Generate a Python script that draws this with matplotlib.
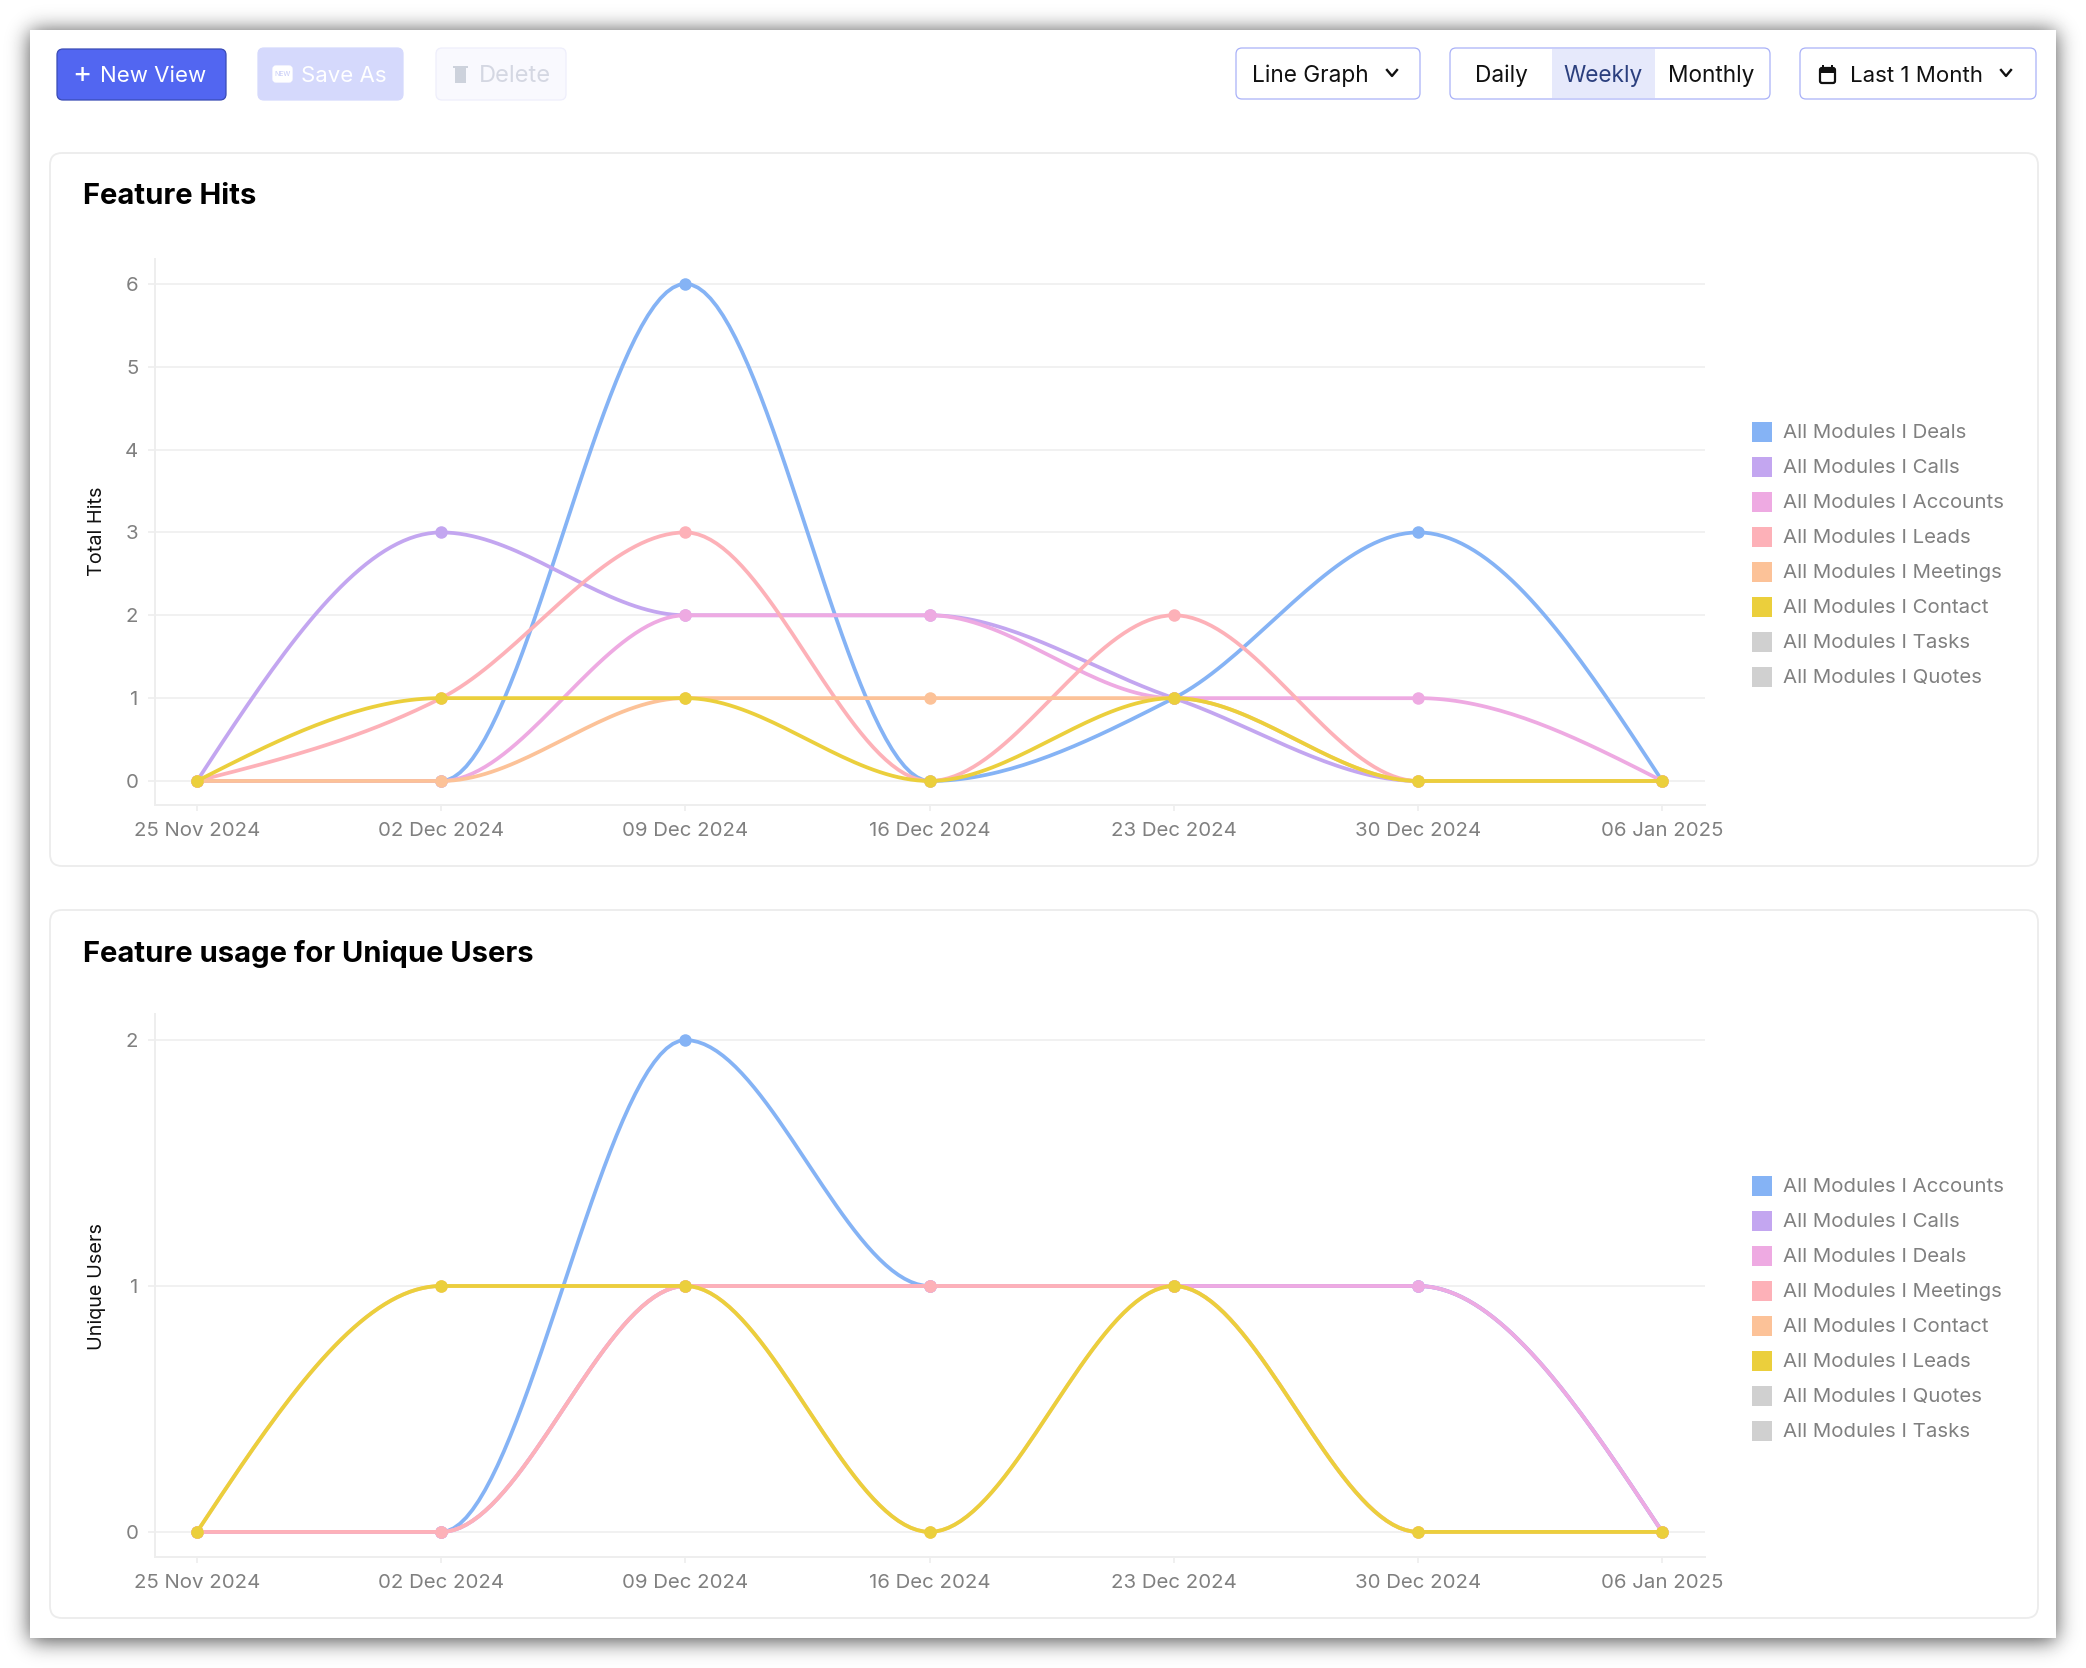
import math
import numpy as np
import matplotlib
matplotlib.use('Agg')
import matplotlib.pyplot as plt
from matplotlib.patches import FancyBboxPatch, Rectangle

W, H = 2086, 1668

weeks = ['25 Nov 2024', '02 Dec 2024', '09 Dec 2024', '16 Dec 2024', '23 Dec 2024', '30 Dec 2024', '06 Jan 2025']

# first chart
hits_deals = [0, 0, 6, 0, 1, 3, 0]
hits_calls = [0, 3, 2, 2, 1, 0, 0]
hits_accounts = [0, 0, 2, 2, 1, 1, 0]
hits_leads = [0, 1, 3, 0, 2, 0, 0]
hits_meetings = [0, 0, 1, 1, 1, 0, 0]
hits_contact = [0, 1, 1, 0, 1, 0, 0]
hits_names = ['Deals', 'Calls', 'Accounts', 'Leads', 'Meetings', 'Contact', 'Tasks', 'Quotes']

# second chart
users_accounts = [0, 0, 2, 1, 1, 1, 0]
users_calls = [0, 0, 1, 1, 1, 1, 0]
users_deals = [0, 0, 1, 1, 1, 1, 0]
users_meetings = [0, 0, 1, 1, 1, 0, 0]
users_contact = [0, 1, 1, 0, 1, 0, 0]
users_leads = [0, 1, 1, 0, 1, 0, 0]
users_names = ['Accounts', 'Calls', 'Deals', 'Meetings', 'Contact', 'Leads', 'Quotes', 'Tasks']

colors = ['#85b3f5', '#c3a6f0', '#eeaae2', '#fdb1b8', '#fcc298', '#ebcf3c', '#d0d0d0', '#d0d0d0']

UI = 'Inter'
CHART = 'Inter'


def monotone(y, n=40):
    # same curve as d3 monotoneX, points are one week apart
    y = np.array(y, dtype=float)
    s = np.diff(y)
    t = np.zeros(len(y))
    for i in range(1, len(y) - 1):
        p = (s[i - 1] + s[i]) / 2
        t[i] = (np.sign(s[i - 1]) + np.sign(s[i])) * min(abs(s[i - 1]), abs(s[i]), 0.5 * abs(p))
    t[0] = (3 * s[0] - t[1]) / 2
    t[-1] = (3 * s[-1] - t[-2]) / 2
    xs, ys = [], []
    for i in range(len(y) - 1):
        u = np.linspace(0, 1, n)
        ys.append((2 * u**3 - 3 * u**2 + 1) * y[i] + (u**3 - 2 * u**2 + u) * t[i] + (-2 * u**3 + 3 * u**2) * y[i + 1] + (u**3 - u**2) * t[i + 1])
        xs.append(i + u)
    return np.concatenate(xs), np.concatenate(ys)


def box(ax, x0, y0, x1, y1, fc, ec, lw=0.9, r=6, z=2):
    ax.add_patch(FancyBboxPatch((x0, y0), x1 - x0, y1 - y0, boxstyle='round,pad=0,rounding_size=%d' % r, fc=fc, ec=ec, lw=lw, zorder=z))


def chevron(ax, x, y, c='#111111'):
    ax.plot([x - 5, x, x + 5], [y - 3, y + 3, y - 3], color=c, lw=1.7, zorder=4)


fig = plt.figure(figsize=(W / 100, H / 100), dpi=100, facecolor='white')
bg = fig.add_axes([0, 0, 1, 1])
bg.set_xlim(0, W)
bg.set_ylim(H, 0)
bg.axis('off')

# window shadow
erf = np.vectorize(math.erf)
xx = np.arange(W) + 0.5
yy = np.arange(H) + 0.5
sig = 15
ax_ = 0.5 * (erf((xx - 30) / sig) - erf((xx - 2056) / sig))
ay_ = 0.5 * (erf((yy - 31) / sig) - erf((yy - 1641) / sig))
shadow = 1 - 0.7 * np.outer(ay_, ax_)
bg.imshow(shadow, cmap='gray', vmin=0, vmax=1, extent=[0, W, H, 0], aspect='auto', zorder=0)
bg.set_xlim(0, W)
bg.set_ylim(H, 0)
bg.add_patch(Rectangle((30, 30), 2026, 1608, fc='white', ec='none', zorder=1))

# toolbar
TY = 76
box(bg, 57, 49, 226, 100, '#5266f1', '#3a4bb5')
bg.text(82, TY - 2, '+', color='white', fontsize=21, family=UI, ha='center', va='center', zorder=4)
bg.text(100, TY, 'New View', color='white', fontsize=16, family=UI, va='center', zorder=4)
box(bg, 258, 48, 403, 100, '#d5d9fc', '#d5d9fc')
box(bg, 273, 66, 292, 82, 'white', 'white', r=3, z=3)
bg.text(282.5, 74, 'NEW', color='#c6cbf7', fontsize=5, family=UI, ha='center', va='center', zorder=4)
bg.text(301, TY, 'Save As', color='white', fontsize=16, family=UI, va='center', zorder=4)
box(bg, 436, 48, 566, 100, '#f9f9fe', '#eeeefb')
bg.add_patch(Rectangle((455, 68), 11, 15, fc='#cdd2dc', ec='none', zorder=3))
bg.add_patch(Rectangle((453, 66), 15, 2, fc='#cdd2dc', ec='none', zorder=3))
bg.text(479, TY, 'Delete', color='#d4d7e2', fontsize=17, family=UI, va='center', zorder=4)

box(bg, 1236, 48, 1420, 99, 'white', '#a9b1f8')
bg.text(1252, TY, 'Line Graph', color='#111111', fontsize=16.3, family=UI, va='center', zorder=4)
chevron(bg, 1392, 73)

box(bg, 1450, 48, 1770, 99, 'white', '#a9b1f8')
bg.add_patch(Rectangle((1552, 49), 103, 49, fc='#e6e9fb', ec='none', zorder=3))
bg.text(1501, TY, 'Daily', color='#111111', fontsize=16.3, family=UI, ha='center', va='center', zorder=4)
bg.text(1603, TY, 'Weekly', color='#2b3f7e', fontsize=16.3, family=UI, ha='center', va='center', zorder=4)
bg.text(1711, TY, 'Monthly', color='#111111', fontsize=16.3, family=UI, ha='center', va='center', zorder=4)

box(bg, 1800, 48, 2036, 99, 'white', '#a9b1f8')
box(bg, 1820, 68, 1835, 83, 'white', '#111111', lw=1.6, r=2, z=3)
bg.add_patch(Rectangle((1820, 68), 15, 5, fc='#111111', ec='none', zorder=4))
bg.add_patch(Rectangle((1822, 65), 2, 4, fc='#111111', ec='none', zorder=4))
bg.add_patch(Rectangle((1831, 65), 2, 4, fc='#111111', ec='none', zorder=4))
bg.text(1850, TY, 'Last 1 Month', color='#111111', fontsize=16, family=UI, va='center', zorder=4)
chevron(bg, 2006, 73)

# cards
box(bg, 50, 153, 2038, 866, 'white', '#ececec', lw=1.3, r=12)
box(bg, 50, 910, 2038, 1618, 'white', '#ececec', lw=1.3, r=12)
bg.text(83, 196, 'Feature Hits', color='black', fontsize=21, family=UI, weight='bold', va='center', zorder=4)
bg.text(83, 954, 'Feature usage for Unique Users', color='black', fontsize=21, family=UI, weight='bold', va='center', zorder=4)


def legend(names, y0):
    for i, name in enumerate(names):
        y = y0 + 35 * i
        bg.add_patch(Rectangle((1752, y - 10), 20, 20, fc=colors[i], ec='none', zorder=3))
        bg.text(1783, y + 1, 'All Modules I ' + name, color='#808080', fontsize=14.7, family=CHART, va='center', zorder=4)


legend(hits_names, 432)
legend(users_names, 1186)


def chart(top, bottom, ylim, ticks, ylabel, series, lab_y):
    ax = fig.add_axes([155 / W, 1 - bottom / H, 1550 / W, (bottom - top) / H])
    ax.patch.set_alpha(0)
    for s, c in zip(series, colors):
        x, y = monotone(s)
        ax.plot(x, y, color=c, lw=2.7, solid_capstyle='round')
        ax.plot(range(len(s)), s, ls='none', marker='o', ms=9, color=c, mew=0)
    ax.set_xlim(-0.172, 6.175)
    ax.set_ylim(*ylim)
    ax.set_yticks(ticks)
    ax.set_xticks(range(len(weeks)))
    ax.set_xticklabels(weeks, family=CHART, fontsize=14.7, color='#808080')
    ax.set_yticklabels([str(t) for t in ticks], family=CHART, fontsize=14.7, color='#808080')
    ax.tick_params(axis='x', color='#eeeeee', length=4, width=1.2, pad=8)
    ax.tick_params(axis='y', color='#eeeeee', length=5, width=1.2, pad=7)
    ax.grid(axis='y', color='#f0f0f0', lw=1.3)
    ax.set_axisbelow(True)
    ax.spines['top'].set_visible(False)
    ax.spines['right'].set_visible(False)
    ax.spines['left'].set_color('#eeeeee')
    ax.spines['bottom'].set_color('#eeeeee')
    ax.spines['left'].set_linewidth(1.4)
    ax.spines['bottom'].set_linewidth(1.4)
    bg.text(97, lab_y, ylabel, color='#111111', fontsize=14.3, family=CHART, rotation=90, ha='center', va='center', zorder=4)
    return ax


chart(259, 805, (-0.29, 6.3), [0, 1, 2, 3, 4, 5, 6], 'Total Hits',
      [hits_deals, hits_calls, hits_accounts, hits_leads, hits_meetings, hits_contact], 531)
chart(1014, 1557, (-0.102, 2.106), [0, 1, 2], 'Unique Users',
      [users_accounts, users_calls, users_deals, users_meetings, users_contact, users_leads], 1286)

fig.savefig('out.png', dpi=100)
